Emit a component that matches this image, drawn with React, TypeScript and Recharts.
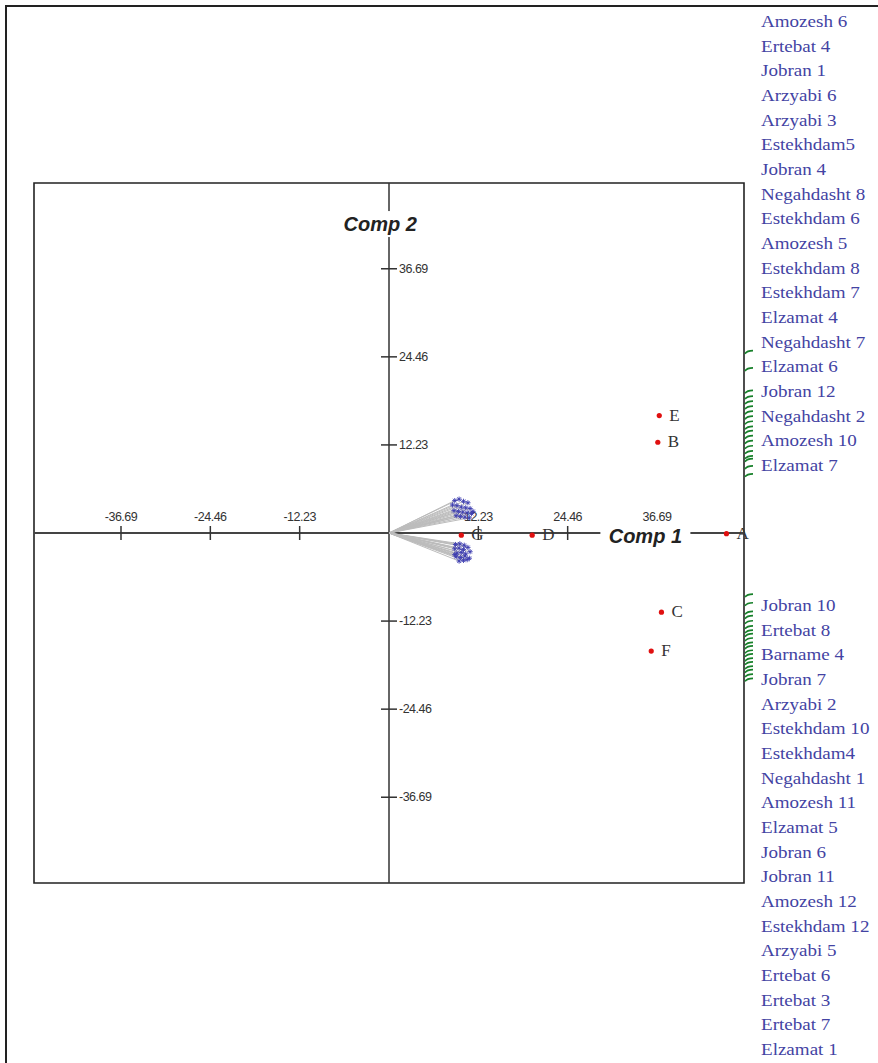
import React from "react";
import {
  ScatterChart,
  Scatter,
  XAxis,
  YAxis,
  ReferenceLine,
  ReferenceArea,
  ReferenceDot,
} from "recharts";

// axis ticks (same values on both components)
const axisTicks = [-36.69, -24.46, -12.23, 12.23, 24.46, 36.69];
const axisLimit = 48.6;

// observations (red points)
const obsNames = ["A", "B", "C", "D", "E", "F", "G"];
const obsComp1 = [46.2, 36.8, 37.3, 19.6, 37.0, 35.9, 9.9];
const obsComp2 = [-0.1, 12.6, -11.0, -0.3, 16.3, -16.4, -0.3];

// variable loadings (blue asterisks), upper and lower clusters
const upperComp1 = [9.0, 9.6, 10.2, 10.8, 8.7, 9.3, 9.9, 10.5, 11.1, 8.9, 9.5, 10.1, 10.7, 11.3, 9.2, 9.8, 10.4, 11.0, 11.5];
const upperComp2 = [4.5, 4.7, 4.4, 4.2, 3.9, 3.8, 3.6, 3.5, 3.4, 3.1, 3.0, 2.9, 2.8, 2.7, 2.4, 2.3, 2.2, 2.1, 3.0];
const lowerComp1 = [9.1, 9.7, 10.3, 9.0, 9.6, 10.2, 10.8, 9.3, 9.9, 10.5, 11.1, 9.2, 9.8, 10.4, 11.0, 9.6, 10.2, 10.7, 9.0];
const lowerComp2 = [-1.6, -1.5, -1.7, -2.2, -2.1, -2.3, -2.0, -2.8, -2.7, -2.9, -2.6, -3.3, -3.4, -3.2, -3.5, -3.9, -3.8, -3.7, -3.0];

// leader positions on the right frame
const upperLeaders = [24.9, 22.5, 19.4, 18.6, 17.9, 17.2, 16.5, 15.8, 15.1, 14.4, 13.8, 13.1, 12.4, 11.7, 11.0, 10.3, 9.9, 8.9, 7.8];
const lowerLeaders = [-8.9, -10.1, -11.3, -11.9, -12.6, -13.3, -13.9, -14.4, -15.0, -15.6, -16.1, -16.7, -17.2, -17.8, -18.3, -18.9, -19.4, -20.0, -20.6];

const upperLabels = [
  "Amozesh 6", "Ertebat 4", "Jobran 1", "Arzyabi 6", "Arzyabi 3", "Estekhdam5",
  "Jobran 4", "Negahdasht 8", "Estekhdam 6", "Amozesh 5", "Estekhdam 8",
  "Estekhdam 7", "Elzamat 4", "Negahdasht 7", "Elzamat 6", "Jobran 12",
  "Negahdasht 2", "Amozesh 10", "Elzamat 7",
];
const lowerLabels = [
  "Jobran 10", "Ertebat 8", "Barname 4", "Jobran 7", "Arzyabi 2", "Estekhdam 10",
  "Estekhdam4", "Negahdasht 1", "Amozesh 11", "Elzamat 5", "Jobran 6",
  "Jobran 11", "Amozesh 12", "Estekhdam 12", "Arzyabi 5", "Ertebat 6",
  "Ertebat 3", "Ertebat 7", "Elzamat 1",
];

const observations = obsNames.map((name, i) => ({ name, x: obsComp1[i], y: obsComp2[i] }));
const variables = [
  ...upperComp1.map((x, i) => ({ x, y: upperComp2[i] })),
  ...lowerComp1.map((x, i) => ({ x, y: lowerComp2[i] })),
];
const leaders = [...upperLeaders, ...lowerLeaders].map((y) => ({ x: axisLimit, y }));
const xTickData = axisTicks.map((t) => ({ x: t, y: 0, label: t.toFixed(2) }));
const yTickData = axisTicks.map((t) => ({ x: 0, y: t, label: t.toFixed(2) }));

const tickFont = "'Liberation Sans', Arial, sans-serif";
const serif = "'Liberation Serif', 'Times New Roman', serif";

const XTick = (props: any) => {
  const { cx, cy, payload } = props;
  return (
    <g>
      <line x1={cx} x2={cx} y1={cy - 7} y2={cy + 7} stroke="#333" strokeWidth={1.5} />
      <text x={cx} y={cy - 12} textAnchor="middle" fontSize={12.5} fill="#333" fontFamily={tickFont} letterSpacing={-0.5}>
        {payload.label}
      </text>
    </g>
  );
};

const YTick = (props: any) => {
  const { cx, cy, payload } = props;
  return (
    <g>
      <line x1={cx - 8} x2={cx + 8} y1={cy} y2={cy} stroke="#333" strokeWidth={1.5} />
      <text x={cx + 10} y={cy + 4} textAnchor="start" fontSize={12.5} fill="#333" fontFamily={tickFont} letterSpacing={-0.5}>
        {payload.label}
      </text>
    </g>
  );
};

const ObsDot = (props: any) => {
  const { cx, cy, payload } = props;
  return (
    <g>
      <circle cx={cx} cy={cy} r={2.6} fill="#e01010" />
      <text x={cx + 10} y={cy + 5} fontSize={17} fill="#333" fontFamily={serif}>
        {payload.name}
      </text>
    </g>
  );
};

const Asterisk = (props: any) => {
  const { cx, cy } = props;
  const r = 2.6;
  return (
    <g stroke="#3c3cb0" strokeWidth={0.9}>
      <line x1={cx - r} x2={cx + r} y1={cy} y2={cy} />
      <line x1={cx} x2={cx} y1={cy - r} y2={cy + r} />
      <line x1={cx - r * 0.7} x2={cx + r * 0.7} y1={cy - r * 0.7} y2={cy + r * 0.7} />
      <line x1={cx - r * 0.7} x2={cx + r * 0.7} y1={cy + r * 0.7} y2={cy - r * 0.7} />
    </g>
  );
};

const Leader = (props: any) => {
  const { cx, cy } = props;
  return (
    <path
      d={`M ${cx + 1} ${cy} Q ${cx + 3} ${cy - 3} ${cx + 9} ${cy - 3}`}
      stroke="#17802a"
      strokeWidth={1.7}
      fill="none"
    />
  );
};

const AxisTitle = (text: string) => (props: any) => {
  const { cx, cy } = props;
  return (
    <g>
      <rect x={cx - 45} y={cy - 13} width={90} height={26} fill="#fff" />
      <text
        x={cx}
        y={cy + 7}
        textAnchor="middle"
        fontSize={20}
        fontWeight="bold"
        fontStyle="italic"
        fill="#222"
        fontFamily={tickFont}
      >
        {text}
      </text>
    </g>
  );
};

const labelStyle: React.CSSProperties = {
  position: "absolute",
  left: 761,
  fontFamily: serif,
  fontSize: 17,
  lineHeight: "24.67px",
  color: "#4343a3",
  whiteSpace: "nowrap",
  transform: "scaleX(1.12)",
  transformOrigin: "left top",
};

export default function App() {
  return (
    <div style={{ position: "absolute", left: 0, top: 0, width: 878, height: 1063, background: "#fff", overflow: "hidden" }}>
      <div style={{ position: "absolute", left: 5, top: 5, width: 900, height: 1100, borderTop: "2px solid #222", borderLeft: "2px solid #222" }} />
      <div style={{ position: "absolute", left: 0, top: 0 }}>
        <ScatterChart width={878} height={1063} margin={{ top: 183, left: 34, right: 134, bottom: 180 }}>
          <XAxis type="number" dataKey="x" domain={[-axisLimit, axisLimit]} hide />
          <YAxis type="number" dataKey="y" domain={[-axisLimit, axisLimit]} hide />
          <ReferenceArea x1={-axisLimit} x2={axisLimit} y1={-axisLimit} y2={axisLimit} fill="none" stroke="#222" strokeWidth={1.6} fillOpacity={0} />
          <ReferenceLine x={0} stroke="#333" strokeWidth={1.5} />
          <ReferenceLine y={0} stroke="#444" strokeWidth={2} />
          {variables.map((v, i) => (
            <ReferenceLine
              key={i}
              segment={[{ x: 0, y: 0 }, { x: v.x, y: v.y }]}
              stroke="#bcbcbc"
              strokeWidth={1}
            />
          ))}
          <Scatter data={xTickData} shape={XTick} isAnimationActive={false} />
          <Scatter data={yTickData} shape={YTick} isAnimationActive={false} />
          <ReferenceDot x={-1.2} y={42.9} r={0} shape={AxisTitle("Comp 2")} />
          <ReferenceDot x={35.1} y={-0.4} r={0} shape={AxisTitle("Comp 1")} />
          <Scatter data={variables} shape={Asterisk} isAnimationActive={false} />
          <Scatter data={observations} shape={ObsDot} isAnimationActive={false} />
          <Scatter data={leaders} shape={Leader} isAnimationActive={false} />
        </ScatterChart>
      </div>
      <div style={{ ...labelStyle, top: 10 }}>
        {upperLabels.map((l) => (
          <div key={l}>{l}</div>
        ))}
      </div>
      <div style={{ ...labelStyle, top: 594 }}>
        {lowerLabels.map((l) => (
          <div key={l}>{l}</div>
        ))}
      </div>
    </div>
  );
}
